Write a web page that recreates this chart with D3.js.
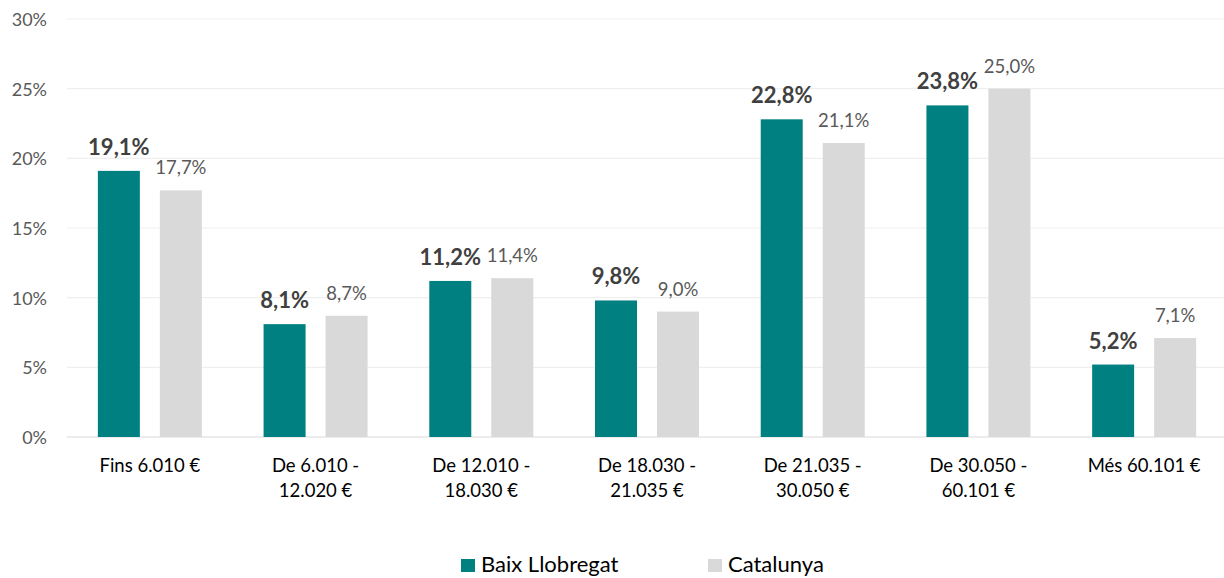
<!DOCTYPE html>
<html>
<head>
<meta charset="utf-8">
<script src="https://cdn.jsdelivr.net/npm/d3@7"></script>
<style>
  body { margin: 0; background: #fff; overflow: hidden; }
  text { font-family: Lato, "Open Sans", sans-serif; }
</style>
</head>
<body>
<script>
const categories = [
  ['Fins 6.010 €'],
  ['De 6.010 -', '12.020 €'],
  ['De 12.010 -', '18.030 €'],
  ['De 18.030 -', '21.035 €'],
  ['De 21.035 -', '30.050 €'],
  ['De 30.050 -', '60.101 €'],
  ['Més 60.101 €']
];
const baixLlobregat = [19.1, 8.1, 11.2, 9.8, 22.8, 23.8, 5.2];
const catalunya = [17.7, 8.7, 11.4, 9.0, 21.1, 25.0, 7.1];
const seriesNames = ['Baix Llobregat', 'Catalunya'];
const yTicks = [0, 5, 10, 15, 20, 25, 30];

const width = 1224, height = 578;
const margin = { left: 67, right: -3, top: 19, bottom: 141 };
const colors = ['#008080', '#d9d9d9'];

const svg = d3.select('body').append('svg')
  .attr('width', width)
  .attr('height', height);

const x = d3.scaleBand()
  .domain(d3.range(categories.length))
  .range([margin.left, width - margin.right])
  .padding(0);

const y = d3.scaleLinear()
  .domain([0, 30])
  .range([height - margin.bottom, margin.top]);

// gridlines
svg.append('g').selectAll('line').data(yTicks).enter()
  .append('line')
  .attr('x1', margin.left)
  .attr('x2', width)
  .attr('y1', d => y(d))
  .attr('y2', d => y(d))
  .attr('stroke', d => d === 0 ? '#d9d9d9' : '#efefef')
  .attr('stroke-width', 1.2);

// y tick labels
svg.append('g').selectAll('text').data(yTicks).enter()
  .append('text')
  .attr('x', 47)
  .attr('y', d => y(d) + 7)
  .attr('text-anchor', 'end')
  .attr('font-size', 18)
  .attr('fill', '#595959')
  .text(d => d + '%');

const barW = 42, offset = 31;
const fmt = v => v.toFixed(1).replace('.', ',') + '%';

const series = [baixLlobregat, catalunya];
series.forEach((vals, s) => {
  const cx = i => x(i) + x.bandwidth() / 2 + (s === 0 ? -offset : offset);
  svg.append('g').selectAll('rect').data(vals).enter()
    .append('rect')
    .attr('x', (d, i) => cx(i) - barW / 2)
    .attr('y', d => y(d))
    .attr('width', barW)
    .attr('height', d => y(0) - y(d))
    .attr('fill', colors[s]);

  svg.append('g').selectAll('text').data(vals).enter()
    .append('text')
    .attr('x', (d, i) => cx(i))
    .attr('y', d => y(d) - 16)
    .attr('text-anchor', 'middle')
    .attr('font-size', s === 0 ? 22 : 18.5)
    .attr('font-weight', s === 0 ? 'bold' : 'normal')
    .attr('fill', s === 0 ? '#404040' : '#595959')
    .text(d => fmt(d));
});

// category labels
const cat = svg.append('g').selectAll('text').data(categories).enter()
  .append('text')
  .attr('x', (d, i) => x(i) + x.bandwidth() / 2)
  .attr('y', 472)
  .attr('text-anchor', 'middle')
  .attr('font-size', 18.5)
  .attr('fill', '#000');
cat.selectAll('tspan').data(d => d).enter()
  .append('tspan')
  .attr('x', function() { return d3.select(this.parentNode).attr('x'); })
  .attr('dy', (d, i) => i === 0 ? 0 : 25)
  .text(d => d);

// legend
const legendX = [461, 708];
const legend = svg.append('g').selectAll('g').data(seriesNames).enter()
  .append('g')
  .attr('transform', (d, i) => `translate(${legendX[i]},559)`);
legend.append('rect')
  .attr('width', 14)
  .attr('height', 13)
  .attr('fill', (d, i) => colors[i]);
legend.append('text')
  .attr('x', 20)
  .attr('y', 13)
  .attr('font-size', 22)
  .attr('fill', '#000')
  .text(d => d);
</script>
</body>
</html>
